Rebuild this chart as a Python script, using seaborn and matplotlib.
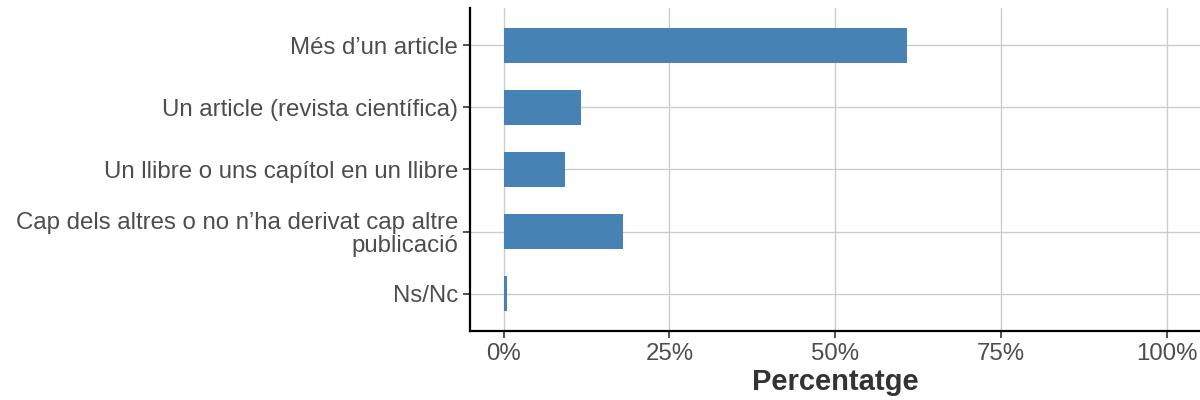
import matplotlib
matplotlib.use("Agg")
import matplotlib.pyplot as plt
import seaborn as sns
import pandas as pd
from matplotlib.ticker import FuncFormatter

categories = [
    "Més d\u2019un article",
    "Un article (revista científica)",
    "Un llibre o uns capítol en un llibre",
    "Cap dels altres o no n\u2019ha derivat cap altre\npublicació",
    "Ns/Nc",
]
percent = [60.8, 11.7, 9.3, 18.0, 0.5]

df = pd.DataFrame({"cat": categories, "pct": percent})

sns.set_theme(style="whitegrid")
plt.rcParams["font.family"] = ["Liberation Sans", "DejaVu Sans"]

fig = plt.figure(figsize=(12, 4), dpi=100)
ax = fig.add_axes([0.392, 0.1725, 0.608, 0.8075])

sns.barplot(data=df, x="pct", y="cat", order=categories, color="#4682B4",
            width=0.56, saturation=1, linewidth=0, ax=ax)

ax.set_xlim(-5, 105)
ax.set_ylim(4.6, -0.6)
ax.set_xticks([0, 25, 50, 75, 100])
ax.xaxis.set_major_formatter(FuncFormatter(lambda v, p: f"{v:.0f}%"))

ax.grid(True, color="#cccccc", linewidth=1)
ax.set_axisbelow(True)
for s in ["top", "right"]:
    ax.spines[s].set_visible(False)
for s in ["left", "bottom"]:
    ax.spines[s].set_visible(True)
    ax.spines[s].set_color("black")
    ax.spines[s].set_linewidth(1.6)

ax.tick_params(axis="both", which="major", length=5, width=1.2, color="#333333",
               labelsize=17.3, labelcolor="#4d4d4d", left=True, bottom=True, pad=4)
for lab in ax.get_yticklabels():
    lab.set_horizontalalignment("right")
    lab.set_multialignment("right")
    lab.set_linespacing(1.07)

ax.set_ylabel("")
ax.set_xlabel("Percentatge", fontsize=21, fontweight="bold", color="#333333", labelpad=2)

fig.savefig("out.png", dpi=100)
